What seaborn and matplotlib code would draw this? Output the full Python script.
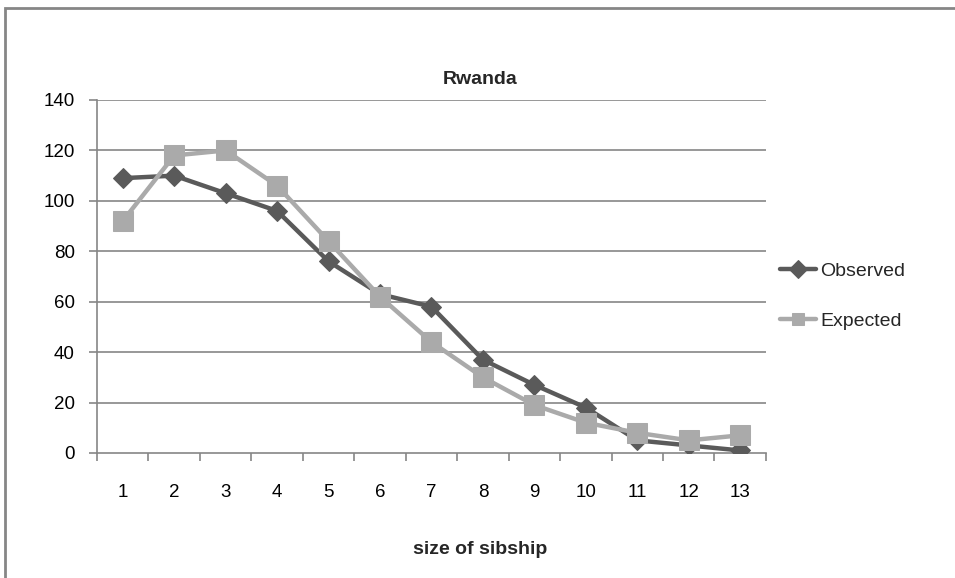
import matplotlib
matplotlib.use("Agg")
import matplotlib.pyplot as plt
import seaborn as sns
import pandas as pd
from matplotlib.patches import Rectangle

sibship_sizes = ["1", "2", "3", "4", "5", "6", "7", "8", "9", "10", "11", "12", "13"]
observed = [109, 110, 103, 96, 76, 63, 58, 37, 27, 18, 5, 3, 1]
expected = [92, 118, 120, 106, 84, 62, 44, 30, 19, 12, 8, 5, 7]
y_ticks = [0, 20, 40, 60, 80, 100, 120, 140]

sns.set_theme(style="white")
plt.rcParams["font.family"] = ["Liberation Sans Narrow", "Liberation Sans", "DejaVu Sans"]

positions = list(range(1, len(sibship_sizes) + 1))
df = pd.DataFrame({
    "pos": positions * 2,
    "value": observed + expected,
    "series": ["Observed"] * len(observed) + ["Expected"] * len(expected),
})

fig = plt.figure(figsize=(9.55, 5.78), dpi=100)
ax = fig.add_axes([0.1016, 0.2163, 0.7004, 0.6107])

grid_col = "#868686"
obs_col = "#5a5a5a"
exp_col = "#aaaaaa"

ax.set_ylim(0, 140)
ax.set_yticks(y_ticks)
for t in y_ticks[1:]:
    ax.axhline(t, color=grid_col, lw=1.2, zorder=0)

sns.lineplot(data=df[df.series == "Observed"], x="pos", y="value", ax=ax,
             color=obs_col, lw=3.2, marker="D", markersize=10.5,
             markeredgecolor=obs_col, label="Observed", zorder=3)
sns.lineplot(data=df[df.series == "Expected"], x="pos", y="value", ax=ax,
             color=exp_col, lw=3.2, marker="s", markersize=14,
             markeredgecolor=exp_col, label="Expected", zorder=4)

ax.set_xlim(0.5, len(sibship_sizes) + 0.5)
ax.set_xticks([p + 0.5 for p in range(0, len(sibship_sizes) + 1)])
ax.set_xticklabels([])
ax.set_xticks(positions, minor=True)
ax.set_xticklabels(sibship_sizes, minor=True)
ax.tick_params(axis="x", which="major", length=6, width=1.2, color=grid_col, direction="out", bottom=True)
ax.tick_params(axis="x", which="minor", length=0, pad=22, labelsize=13.5, labelcolor="#000000")
ax.tick_params(axis="y", length=6, width=1.2, color=grid_col, direction="out", left=True,
               labelsize=13.5, labelcolor="#000000", pad=10)

for side in ["top", "right"]:
    ax.spines[side].set_visible(False)
for side in ["left", "bottom"]:
    ax.spines[side].set_visible(True)
    ax.spines[side].set_color(grid_col)
    ax.spines[side].set_linewidth(1.2)

ax.set_xlabel("")
ax.set_ylabel("")

fig.text(0.503, 0.862, "Rwanda", ha="center", va="center", fontsize=14, fontweight="bold")
fig.text(0.503, 0.05, "size of sibship", ha="center", va="center", fontsize=14, fontweight="bold")

leg = ax.legend(loc="center left", bbox_to_anchor=(1.0, 0.445), frameon=False,
                fontsize=14, handlelength=1.9, handletextpad=0.2, labelspacing=1.65,
                borderaxespad=0.3)
for h in leg.legend_handles:
    h.set_markersize(9)

# outer chart frame
fig.patches.append(Rectangle((5 / 955, -0.05), 1.1, 1 - 8 / 578 + 0.05,
                             transform=fig.transFigure, fill=False,
                             edgecolor=grid_col, lw=2, zorder=10))

fig.savefig("out.png", dpi=100, facecolor="white")
